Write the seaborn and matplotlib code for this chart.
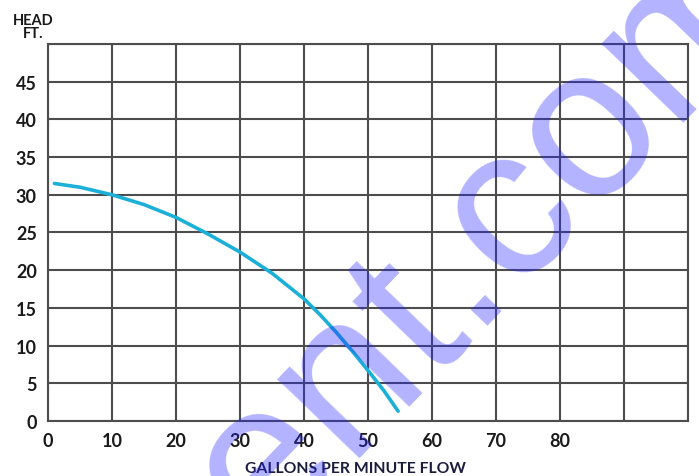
import pandas as pd
import seaborn as sns
import matplotlib.pyplot as plt

# pump curve
flow = [1, 5, 10, 15, 20, 25, 30, 35, 40, 42.5, 45, 47.5, 50, 52.5, 54.7]
head = [31.5, 31.0, 30.0, 28.7, 27.0, 24.8, 22.4, 19.6, 16.2, 14.1, 11.8, 9.3, 6.7, 4.0, 1.3]
x_ticks = [0, 10, 20, 30, 40, 50, 60, 70, 80]
y_ticks = [0, 5, 10, 15, 20, 25, 30, 35, 40, 45]

df = pd.DataFrame({"flow": flow, "head": head})

sns.set_style("white")
plt.rcParams['font.family'] = ['Lato', 'DejaVu Sans']

fig = plt.figure(figsize=(6.99, 4.77), dpi=100)
ax = fig.add_axes([0.0687, 0.1153, 0.9156, 0.7904])

sns.lineplot(x="flow", y="head", data=df, ax=ax, color="#1cb0d8", linewidth=2.6)

ax.set_xlim(0, 100)
ax.set_ylim(0, 50)
ax.set_xticks(range(0, 101, 10))
ax.set_yticks(range(0, 51, 5))
ax.set_xticklabels([str(t) for t in x_ticks] + ["", ""])
ax.set_yticklabels([str(t) for t in y_ticks] + [""])
ax.grid(True, color="#4d4d4d", linewidth=1.5)
for s in ax.spines.values():
    s.set_color("#4d4d4d")
    s.set_linewidth(1.5)
ax.tick_params(length=0, pad=8, labelsize=13, labelcolor="#1a1a1a")
for lab in ax.get_xticklabels() + ax.get_yticklabels():
    lab.set_fontweight("bold")

ax.set_xlabel("GALLONS PER MINUTE FLOW", fontsize=11.3, fontweight="bold", color="#1c1c3c")
ax.xaxis.set_label_coords(0.481, -0.106)
ax.set_ylabel("")
fig.text(0.047, 0.97, "HEAD\nFT.", ha="center", va="top", fontsize=10.5,
         fontweight="bold", color="#1a1a1a", linespacing=0.9)

# watermark
fig.text(0.702, 0.51, "ent.com", rotation=46, ha="center", va="center",
         fontsize=155, family="Liberation Sans", color="#2020ff", alpha=0.34)

fig.savefig("out.png", dpi=100)
